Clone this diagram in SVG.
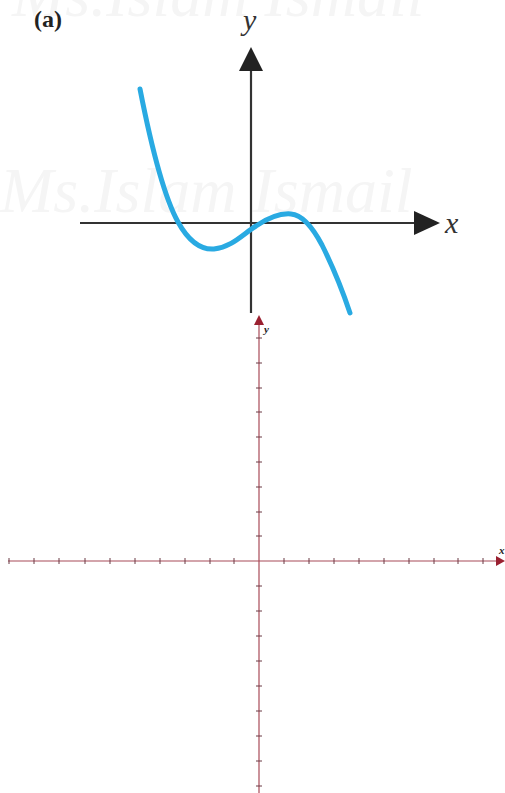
<svg xmlns="http://www.w3.org/2000/svg" width="505" height="793" viewBox="0 0 505 793">
<style>
.wm{font-family:"Liberation Serif",serif;font-style:italic;font-size:64px;fill:#f5f5f5}
.ax{stroke:#333;stroke-width:2.2;fill:none}
.lab{font-family:"Liberation Serif",serif;font-style:italic;font-size:30px;fill:#333}
.rax{stroke:#a84a58;stroke-width:1.2;fill:none}
.tick{stroke:#6a3a44;stroke-width:1}
.small{font-family:"Liberation Serif",serif;font-style:italic;font-weight:bold;font-size:11px;fill:#222}
</style>
<rect width="505" height="793" fill="#fff"/>
<g id="watermark">
<text class="wm" x="12" y="16">Ms.Islam Ismail</text>
<text class="wm" x="0" y="212">Ms.Islam Ismail</text>
</g>
<g id="graph-a">
<text x="34" y="27" font-family="Liberation Serif,serif" font-weight="bold" font-size="24" fill="#222">(a)</text>
<line class="ax" x1="80" y1="223" x2="418" y2="223"/>
<polygon points="414,211 440,223 414,235" fill="#222"/>
<line class="ax" x1="251" y1="313" x2="251" y2="66"/>
<polygon points="239,71 251,47 263,71" fill="#222"/>
<text class="lab" x="445" y="233">x</text>
<text class="lab" x="243" y="30">y</text>
<path d="M140,89 C150,140 163,195 178,222 C188,240 200,250 214,249 C232,247 243,234 256,226 C268,218 280,213 291,214 C303,215 313,228 322,245 C333,267 343,292 350,313" fill="none" stroke="#29aae2" stroke-width="5" stroke-linecap="round"/>
</g>
<g id="graph-b">
<line class="rax" x1="8" y1="561" x2="498" y2="561"/>
<polygon points="496,556 505,561 496,566" fill="#9a2030"/>
<line class="rax" x1="259" y1="793" x2="259" y2="322"/>
<polygon points="254,325 259,315 264,325" fill="#9a2030"/>
<g class="tick">
<line x1="9" y1="558" x2="9" y2="564"/><line x1="34" y1="558" x2="34" y2="564"/><line x1="59" y1="558" x2="59" y2="564"/><line x1="85" y1="558" x2="85" y2="564"/><line x1="110" y1="558" x2="110" y2="564"/><line x1="135" y1="558" x2="135" y2="564"/><line x1="160" y1="558" x2="160" y2="564"/><line x1="185" y1="558" x2="185" y2="564"/><line x1="210" y1="558" x2="210" y2="564"/><line x1="234" y1="558" x2="234" y2="564"/>
<line x1="284" y1="558" x2="284" y2="564"/><line x1="309" y1="558" x2="309" y2="564"/><line x1="334" y1="558" x2="334" y2="564"/><line x1="359" y1="558" x2="359" y2="564"/><line x1="384" y1="558" x2="384" y2="564"/><line x1="409" y1="558" x2="409" y2="564"/><line x1="434" y1="558" x2="434" y2="564"/><line x1="458" y1="558" x2="458" y2="564"/><line x1="483" y1="558" x2="483" y2="564"/>
<line x1="256" y1="338" x2="262" y2="338"/><line x1="256" y1="363" x2="262" y2="363"/><line x1="256" y1="388" x2="262" y2="388"/><line x1="256" y1="412" x2="262" y2="412"/><line x1="256" y1="437" x2="262" y2="437"/><line x1="256" y1="462" x2="262" y2="462"/><line x1="256" y1="487" x2="262" y2="487"/><line x1="256" y1="512" x2="262" y2="512"/><line x1="256" y1="536" x2="262" y2="536"/>
<line x1="256" y1="586" x2="262" y2="586"/><line x1="256" y1="611" x2="262" y2="611"/><line x1="256" y1="636" x2="262" y2="636"/><line x1="256" y1="661" x2="262" y2="661"/><line x1="256" y1="686" x2="262" y2="686"/><line x1="256" y1="711" x2="262" y2="711"/><line x1="256" y1="736" x2="262" y2="736"/><line x1="256" y1="761" x2="262" y2="761"/><line x1="256" y1="786" x2="262" y2="786"/>
</g>
<text class="small" x="264" y="333">y</text>
<text class="small" x="499" y="554">x</text>
</g>
</svg>
